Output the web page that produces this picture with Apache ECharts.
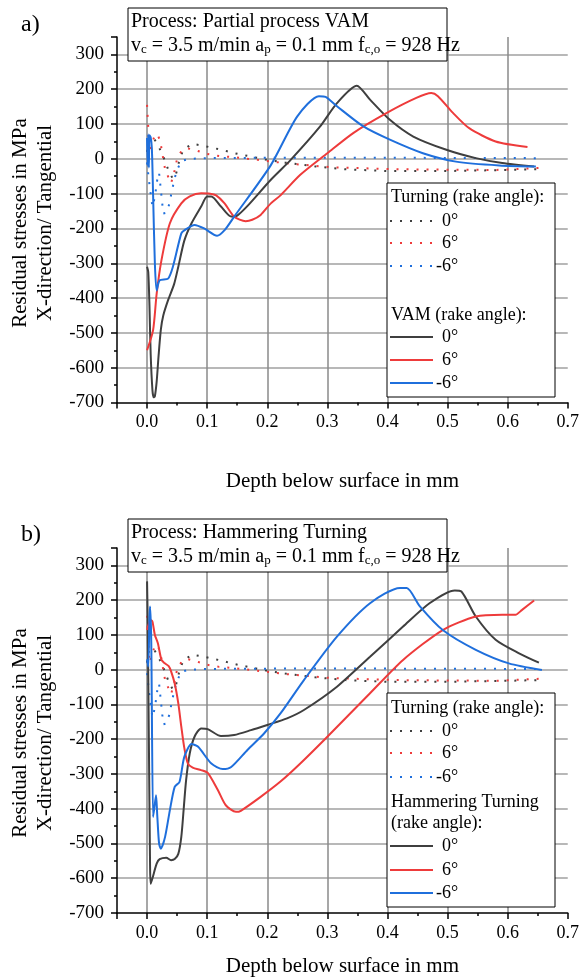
<!DOCTYPE html>
<html>
<head>
<meta charset="utf-8">
<script src="https://cdn.jsdelivr.net/npm/echarts@6.0.0/dist/echarts.min.js"></script>
<style>
  html, body { margin: 0; padding: 0; background: #fff; }
  #chart { width: 582px; height: 980px; }
</style>
</head>
<body>
<div id="chart"></div>
<script>
// depth in mm, residual stress in MPa
// Turning reference curves (same in both panels)
const turn0 = [[0, 20], [0.003, 55], [0.01, 62], [0.018, 40], [0.027, 7], [0.035, -30], [0.043, -58], [0.048, -45], [0.053, -10], [0.06, 26], [0.075, 43], [0.093, 38], [0.11, 31], [0.125, 26], [0.14, 18], [0.16, 11], [0.2, -3], [0.23, -11], [0.28, -22], [0.33, -30], [0.4, -35], [0.5, -35], [0.6, -32], [0.65, -30]]
const turn6 = [[0, 155], [0.002, 90], [0.004, 20], [0.008, 40], [0.013, 70], [0.018, 68], [0.022, 50], [0.026, 10], [0.03, -30], [0.036, -55], [0.04, -70], [0.045, -40], [0.05, 0], [0.058, 25], [0.068, 30], [0.08, 25], [0.1, 14], [0.12, 8], [0.148, 4], [0.184, -3], [0.233, -13], [0.305, -24], [0.415, -30], [0.58, -32], [0.655, -26]]
const turnN6 = [[0, -10], [0.003, -60], [0.006, -100], [0.009, -137], [0.013, -110], [0.017, -60], [0.02, -40], [0.023, -90], [0.027, -157], [0.032, -155], [0.037, -130], [0.041, -95], [0.046, -55], [0.05, -32], [0.057, -6], [0.07, 0], [0.1, 2], [0.2, 3], [0.4, 3], [0.65, 2]]

// a) partial process VAM
const vam0 = [[0, -310], [0.002, -325], [0.004, -420], [0.006, -560], [0.009, -665], [0.011, -685], [0.013, -682], [0.016, -640], [0.019, -570], [0.023, -490], [0.027, -450], [0.035, -406], [0.045, -360], [0.052, -310], [0.062, -235], [0.074, -185], [0.09, -137], [0.1, -108], [0.107, -108], [0.123, -137], [0.14, -166], [0.15, -163], [0.17, -130], [0.206, -60], [0.239, -3], [0.288, 93], [0.316, 160], [0.349, 210], [0.371, 170], [0.404, 112], [0.443, 64], [0.498, 26], [0.547, 2], [0.591, -12], [0.644, -22]]
const vam6 = [[0, -550], [0.01, -493], [0.016, -387], [0.024, -291], [0.038, -185], [0.057, -128], [0.071, -108], [0.09, -99], [0.105, -100], [0.115, -105], [0.129, -128], [0.145, -166], [0.164, -179], [0.175, -175], [0.189, -161], [0.206, -128], [0.222, -105], [0.255, -46], [0.3, 16], [0.343, 74], [0.399, 132], [0.448, 175], [0.473, 189], [0.484, 180], [0.509, 132], [0.536, 88], [0.58, 50], [0.633, 34]]
const vamN6 = [[0, 60], [0.001, -20], [0.002, 70], [0.003, -25], [0.004, 68], [0.006, 62], [0.008, 30], [0.01, -100], [0.013, -300], [0.016, -378], [0.021, -349], [0.035, -344], [0.043, -310], [0.057, -214], [0.0625, -205], [0.079, -190], [0.095, -200], [0.1165, -221], [0.129, -205], [0.145, -166], [0.206, -18], [0.25, 122], [0.286, 180], [0.297, 178], [0.316, 151], [0.36, 93], [0.404, 55], [0.459, 16], [0.514, -8], [0.586, -19], [0.647, -22]]

// b) hammering turning
const ham0 = [[0, 254], [0.001, 150], [0.003, -200], [0.005, -560], [0.006, -616], [0.009, -600], [0.016, -558], [0.021, -545], [0.032, -541], [0.04, -548], [0.046, -545], [0.052, -530], [0.057, -481], [0.061, -400], [0.065, -318], [0.071, -241], [0.079, -193], [0.09, -169], [0.101, -171], [0.123, -191], [0.145, -188], [0.173, -174], [0.2, -159], [0.233, -140], [0.261, -116], [0.316, -49], [0.371, 37], [0.426, 124], [0.47, 191], [0.512, 228], [0.523, 225], [0.547, 153], [0.58, 86], [0.619, 47], [0.652, 20]]
const ham6 = [[0, 114], [0.006, 143], [0.009, 138], [0.013, 100], [0.018, 76], [0.024, 28], [0.029, 19], [0.036, 10], [0.04, -5], [0.046, -40], [0.052, -97], [0.057, -164], [0.062, -225], [0.068, -270], [0.076, -282], [0.09, -289], [0.101, -297], [0.118, -347], [0.131, -390], [0.148, -409], [0.156, -406], [0.189, -366], [0.222, -322], [0.255, -270], [0.3, -193], [0.371, -68], [0.426, 28], [0.492, 114], [0.547, 153], [0.591, 158], [0.613, 158], [0.624, 172], [0.644, 199]]
const hamN6 = [[0, 30], [0.002, 9], [0.004, 150], [0.005, 182], [0.007, 80], [0.01, -424], [0.012, -400], [0.015, -361], [0.017, -420], [0.02, -500], [0.023, -515], [0.03, -481], [0.038, -404], [0.046, -337], [0.054, -323], [0.062, -251], [0.074, -214], [0.085, -222], [0.107, -270], [0.126, -286], [0.14, -280], [0.167, -231], [0.195, -183], [0.222, -126], [0.261, -30], [0.316, 95], [0.371, 191], [0.421, 235], [0.432, 235], [0.454, 182], [0.492, 114], [0.547, 57], [0.602, 18], [0.657, -1]]

const font = "'Liberation Serif', 'Times New Roman', serif"
const BLACK = '#3f3f3f'
const RED = '#ee3b3b'
const BLUE = '#1f6fdc'

const line = (data, color, gridIndex, dotted) => ({
  type: 'line',
  data,
  xAxisIndex: gridIndex,
  yAxisIndex: gridIndex,
  showSymbol: false,
  symbol: 'none',
  smooth: dotted ? false : 0.25,
  lineStyle: { color, width: 2, type: dotted ? [2, 8] : 'solid', cap: 'butt' },
  z: dotted ? 2 : 3,
  silent: true
})

const xAxis = (gridIndex, nameGap) => ({
  type: 'value',
  gridIndex,
  min: -0.05,
  max: 0.7,
  splitNumber: 8,
  name: 'Depth below surface in mm',
  nameLocation: 'middle',
  nameGap,
  nameTextStyle: { fontFamily: font, fontSize: 21, color: '#000' },
  axisLine: { onZero: false, lineStyle: { color: '#000', width: 1.5 } },
  axisTick: { length: 6, lineStyle: { color: '#000', width: 1.5 } },
  minorTick: { show: true, splitNumber: 2, length: 3, lineStyle: { color: '#000', width: 1.5 } },
  axisLabel: { showMinLabel: false, color: '#000', fontFamily: font, fontSize: 18, margin: 11, formatter: v => v.toFixed(1) },
  splitLine: { show: true, showMinLine: false, showMaxLine: false, lineStyle: { color: '#8a8a8a', width: 1.5 } }
})

const yAxis = gridIndex => ({
  type: 'value',
  gridIndex,
  min: -700,
  max: 350,
  interval: 100,
  axisLine: { show: true, onZero: false, lineStyle: { color: '#000', width: 1.5 } },
  axisTick: { length: 6, lineStyle: { color: '#000', width: 1.5 } },
  minorTick: { show: true, splitNumber: 2, length: 3, lineStyle: { color: '#000', width: 1.5 } },
  axisLabel: { showMaxLabel: false, color: '#000', fontFamily: font, fontSize: 19, margin: 13 },
  splitLine: { show: true, showMaxLine: false, showMinLine: false, lineStyle: { color: '#b8b8b8', width: 2 } }
})

const infoBox = (top, title) => [
  { type: 'rect', shape: { x: 128, y: top, width: 319, height: 53 }, style: { fill: '#fff', stroke: '#000', lineWidth: 1 }, z: 100 },
  { type: 'text', x: 131, y: top + 14, z: 101, style: { text: title, fontFamily: font, fontSize: 20, fill: '#000', verticalAlign: 'middle' } },
  {
    type: 'text', x: 131, y: top + 36, z: 101,
    style: {
      text: '{n|v}{s|c}{n| = 3.5 m/min a}{s|p}{n| = 0.1 mm f}{s|c,o}{n| = 928 Hz}',
      verticalAlign: 'middle',
      rich: {
        n: { fontFamily: font, fontSize: 20, lineHeight: 24, fill: '#000', verticalAlign: 'bottom' },
        s: { fontFamily: font, fontSize: 13, lineHeight: 10, fill: '#000', verticalAlign: 'bottom' }
      }
    }
  }
]

// legend rows: [text, y] for headings, [label, y, color, dotted] for samples
const legendBox = (box, rows) => {
  const els = [{ type: 'rect', shape: box, style: { fill: '#fff', stroke: '#000', lineWidth: 1 }, z: 100 }]
  rows.forEach(([text, y, color, dotted]) => {
    if (!color) {
      els.push({ type: 'text', x: box.x + 4, y, z: 101, style: { text, fontFamily: font, fontSize: 18, fill: '#000', verticalAlign: 'middle' } })
      return
    }
    els.push({
      type: 'line', z: 101,
      shape: { x1: box.x + 3, y1: y, x2: box.x + 46, y2: y },
      style: { stroke: color, lineWidth: 2, lineDash: dotted ? [2, 8] : null }
    })
    els.push({ type: 'text', x: text.startsWith('-') ? box.x + 49 : box.x + 55, y, z: 101, style: { text, fontFamily: font, fontSize: 18, fill: '#000', verticalAlign: 'middle' } })
  })
  return els
}

const sideText = (x, y, text, size) => ({ type: 'text', x, y, z: 101, style: { text, fontFamily: font, fontSize: size, fill: '#000', verticalAlign: 'middle' } })
const yName = (cy) => ({
  type: 'text', x: 33, y: cy, rotation: Math.PI / 2, z: 101,
  style: { text: 'Residual stresses in MPa\nX-direction/ Tangential', fontFamily: font, fontSize: 21, lineHeight: 25, fill: '#000', align: 'center', verticalAlign: 'middle' }
})

const chart = echarts.init(document.getElementById('chart'))
chart.setOption({
  animation: false,
  backgroundColor: '#fff',
  grid: [
    { left: 117, right: 13, top: 37, height: 365.5 },
    { left: 117, right: 13, top: 548, height: 365 }
  ],
  xAxis: [xAxis(0, 68), xAxis(1, 43)],
  yAxis: [yAxis(0), yAxis(1)],
  series: [
    line(turn0, BLACK, 0, true),
    line(turn6, RED, 0, true),
    line(turnN6, BLUE, 0, true),
    line(vam0, BLACK, 0, false),
    line(vam6, RED, 0, false),
    line(vamN6, BLUE, 0, false),
    line(turn0, BLACK, 1, true),
    line(turn6, RED, 1, true),
    line(turnN6, BLUE, 1, true),
    line(ham0, BLACK, 1, false),
    line(ham6, RED, 1, false),
    line(hamN6, BLUE, 1, false)
  ],
  graphic: [
    sideText(21, 25, 'a)', 24),
    sideText(21, 535, 'b)', 24),
    yName(223),
    yName(733),
    ...infoBox(8, 'Process: Partial process VAM'),
    ...infoBox(519, 'Process: Hammering Turning'),
    ...legendBox({ x: 387, y: 183, width: 168, height: 214 }, [
      ['Turning (rake angle):', 197],
      ['0°', 221, BLACK, true],
      ['6°', 243, RED, true],
      ['-6°', 266, BLUE, true],
      ['VAM (rake angle):', 315],
      ['0°', 337, BLACK, false],
      ['6°', 360, RED, false],
      ['-6°', 383, BLUE, false]
    ]),
    ...legendBox({ x: 387, y: 693, width: 168, height: 214 }, [
      ['Turning (rake angle):', 708],
      ['0°', 731, BLACK, true],
      ['6°', 753, RED, true],
      ['-6°', 777, BLUE, true],
      ['Hammering Turning', 802],
      ['(rake angle):', 823],
      ['0°', 846, BLACK, false],
      ['6°', 870, RED, false],
      ['-6°', 893, BLUE, false]
    ])
  ]
})
</script>
</body>
</html>
